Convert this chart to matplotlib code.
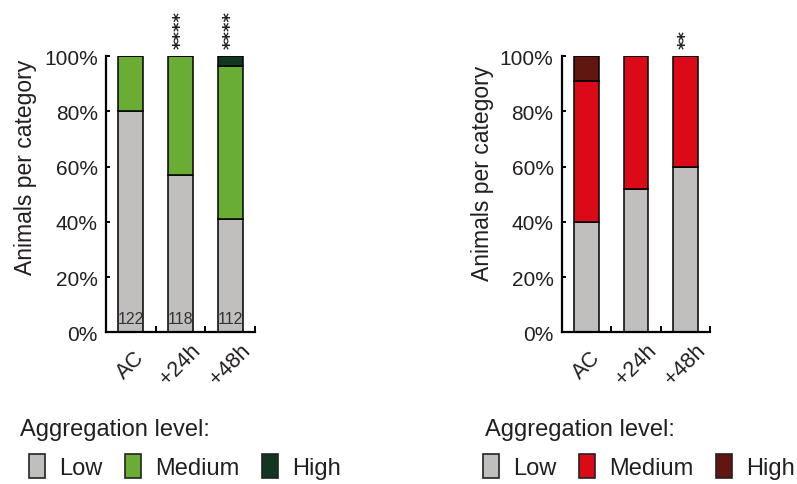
import numpy as np
import matplotlib
matplotlib.use('Agg')
import matplotlib.pyplot as plt
from matplotlib.patches import Patch
from matplotlib.ticker import PercentFormatter, FixedLocator

plt.rcParams['font.family'] = ['Liberation Sans', 'DejaVu Sans']
plt.rcParams['text.color'] = '#231f20'
plt.rcParams['axes.labelcolor'] = '#231f20'
plt.rcParams['xtick.color'] = 'black'
plt.rcParams['ytick.color'] = 'black'
plt.rcParams['xtick.labelcolor'] = '#231f20'
plt.rcParams['ytick.labelcolor'] = '#231f20'

categories = ['AC', '+24h', '+48h']
levels = ['Low', 'Medium', 'High']

# left panel (green), percent of animals
green_low = [80.3, 56.8, 41.1]
green_medium = [19.7, 43.2, 55.4]
green_high = [0.0, 0.0, 3.5]
green_n = [122, 118, 112]
green_stars = ['', '****', '****']
green_colors = ['#c0bfbd', '#6aad35', '#12361f']

# right panel (red)
red_low = [40.1, 52.0, 59.8]
red_medium = [50.9, 48.0, 40.2]
red_high = [9.0, 0.0, 0.0]
red_stars = ['', '', '**']
red_colors = ['#c0bfbd', '#dc0a19', '#621610']


def draw_panel(ax, low, medium, high, colors, stars, n=None, ylab_y=0.6):
    x = np.arange(len(categories))
    bottom = np.zeros(len(categories))
    for vals, c in zip([low, medium, high], colors):
        vals = np.array(vals)
        ax.bar(x, vals, 0.5, bottom=bottom, color=c, edgecolor='black', linewidth=1.1)
        bottom += vals
    ax.set_xlim(-0.5, 2.5)
    ax.set_ylim(0, 100)
    for s in ['top', 'right']:
        ax.spines[s].set_visible(False)
    for s in ['left', 'bottom']:
        ax.spines[s].set_linewidth(1.6)
    ax.yaxis.set_major_formatter(PercentFormatter(xmax=100, decimals=0))
    ax.set_yticks([0, 20, 40, 60, 80, 100])
    ax.tick_params(axis='y', direction='in', length=3, width=1.4, labelsize=15, pad=6)
    ax.set_xticks(x)
    ax.set_xticklabels(categories, rotation=45, ha='center', va='center')
    ax.tick_params(axis='x', which='major', length=0, labelsize=15.5, pad=23)
    ax.xaxis.set_minor_locator(FixedLocator([0.5, 1.5, 2.5]))
    ax.tick_params(axis='x', which='minor', direction='in', length=4, width=1.4)
    ax.set_ylabel('Animals per category', fontsize=16.5)
    ax.yaxis.set_label_coords(-0.46, ylab_y)
    for i, s in enumerate(stars):
        if s:
            ax.annotate(s, (i, 100), xytext=(0, 6), textcoords='offset points',
                        rotation=90, ha='center', va='bottom', fontsize=13,
                        family='DejaVu Sans', weight='bold', annotation_clip=False)
    if n is not None:
        for i, v in enumerate(n):
            ax.text(i, 4.8, str(v), ha='center', va='center', fontsize=11.5, color='#333333')


fig = plt.figure(figsize=(7.97, 4.85), dpi=100)
ax1 = fig.add_axes([0.133, 0.313, 0.187, 0.569])
ax2 = fig.add_axes([0.705, 0.313, 0.186, 0.569])

draw_panel(ax1, green_low, green_medium, green_high, green_colors, green_stars, n=green_n, ylab_y=0.6)
draw_panel(ax2, red_low, red_medium, red_high, red_colors, red_stars, ylab_y=0.58)

for colors, x0, xt in [(green_colors, 0.0364, 0.025), (red_colors, 0.606, 0.6085)]:
    fig.text(xt, 0.101, 'Aggregation level:', fontsize=17, va='baseline')
    handles = [Patch(facecolor=c, edgecolor='#222222', linewidth=1.2) for c in colors]
    fig.legend(handles, levels, loc='center left', bbox_to_anchor=(x0, 0.037), ncol=3,
               frameon=False, fontsize=17, handlelength=0.68, handleheight=1.19,
               handletextpad=0.6, columnspacing=0.95, borderaxespad=0, borderpad=0)

fig.savefig('out.png', dpi=100)
